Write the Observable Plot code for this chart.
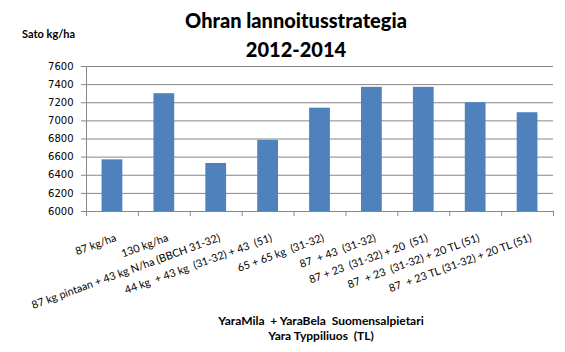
<!DOCTYPE html>
<html><head><meta charset="utf-8">
<script src="https://cdn.jsdelivr.net/npm/d3@7"></script>
<script src="https://cdn.jsdelivr.net/npm/@observablehq/plot@0.6"></script>
<style>
body{margin:0;background:#fff}
#wrap{position:relative;width:565px;height:352px;overflow:hidden;background:#fff}
#chart svg{position:absolute;left:0;top:0}
#chart text{white-space:pre}
.t{position:absolute;font-family:Lato,"Open Sans",sans-serif;font-weight:900;color:#000;white-space:pre;text-align:center}
</style></head><body>
<div id="wrap">
<div id="chart"></div>
<div class="t" id="title" style="left:0;width:592px;top:6px;font-size:20px;line-height:29px">Ohran lannoitusstrategia<br>2012-2014</div>
<div class="t" id="ylab" style="left:22px;top:27px;font-size:11px;text-align:left;font-weight:bold">Sato kg/ha</div>
<div class="t" id="cap" style="left:0;width:642px;top:313px;font-size:12px;line-height:15px;font-weight:bold">YaraMila  + YaraBela  Suomensalpietari<br>Yara Typpiliuos  (TL)</div>
</div>
<script>
const categories = [
  "87 kg/ha",
  "130 kg/ha",
  "87 kg pintaan + 43 kg N/ha (BBCH 31-32)",
  "44 kg  + 43 kg  (31-32) + 43  (51)",
  "65 + 65 kg  (31-32)",
  "87  + 43  (31-32)",
  "87 + 23  (31-32) + 20  (51)",
  "87  + 23  (31-32) + 20 TL (51)",
  "87  + 23 TL (31-32) + 20 TL (51)"
];
const yields = [6570, 7300, 6530, 6785, 7140, 7370, 7370, 7200, 7090];
const yTicks = [6000, 6200, 6400, 6600, 6800, 7000, 7200, 7400, 7600];

const data = categories.map((c, i) => ({i, c, v: yields[i]}));
const grid = "#868686";
const chart = Plot.plot({
  width: 565,
  height: 352,
  marginLeft: 86,
  marginRight: 12,
  marginTop: 66,
  marginBottom: 141,
  style: {fontFamily: "DejaVu Sans, Verdana, sans-serif", fontSize: "10px", background: "#fff", color: "#000"},
  x: {type: "linear", domain: [0, categories.length], axis: null, label: null},
  y: {domain: [6000, 7600], axis: null, label: null},
  marks: [
    Plot.ruleY(yTicks, {stroke: grid, strokeWidth: 1}),
    Plot.ruleX([0], {y1: 6000, y2: 7600, stroke: grid}),
    Plot.axisY({ticks: yTicks, tickSize: 5, tickPadding: 8, tickFormat: d => String(d), stroke: grid, fontSize: 10, label: null}),
    Plot.axisX({ticks: d3.range(categories.length + 1), tickSize: 5, tickFormat: () => "", stroke: grid, label: null}),
    Plot.rectY(data, {x1: d => d.i + 0.3, x2: d => d.i + 0.7, y1: 6000, y2: "v", fill: "#4F81BD"}),
    Plot.text(data, {x: d => d.i + 0.5, y: 6000, text: "c", rotate: -20, textAnchor: "end", lineAnchor: "top", dy: 22, dx: 2,
      fontFamily: "Lato, 'Open Sans', sans-serif", fontSize: 10.8, fill: "#000"})
  ]
});
document.getElementById("chart").append(chart);
</script>
</body></html>
